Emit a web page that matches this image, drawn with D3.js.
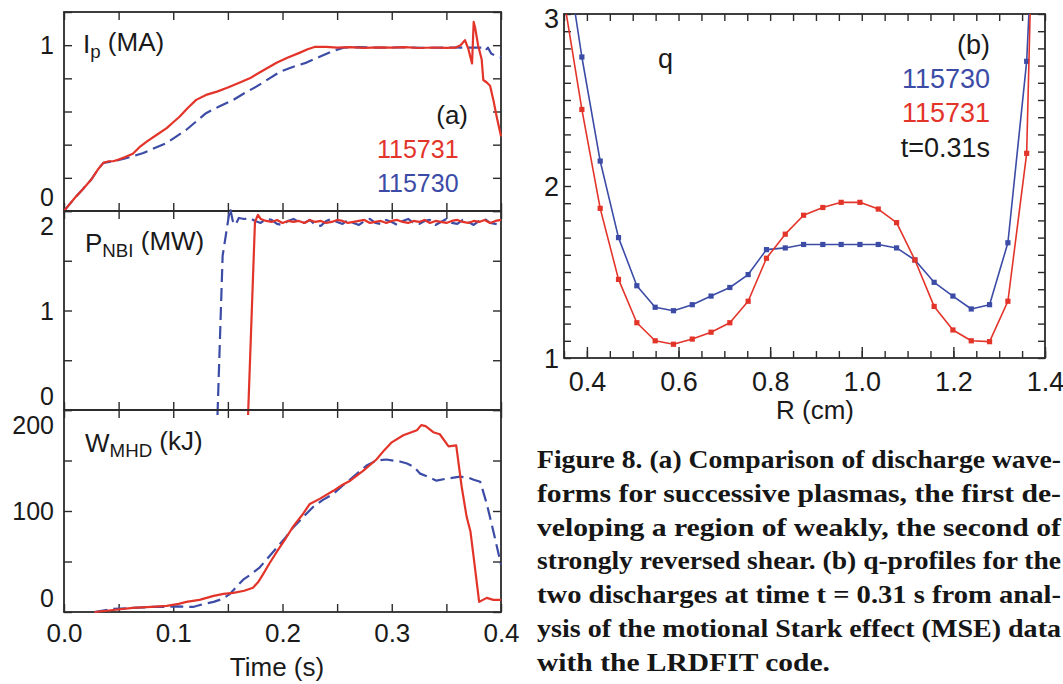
<!DOCTYPE html>
<html>
<head>
<meta charset="utf-8">
<script src="https://cdn.jsdelivr.net/npm/d3@7"></script>
<style>
  body { margin: 0; background: #fff; }
  svg text { font-family: "Liberation Sans", Arial, sans-serif; fill: #1a1a1a; }
  svg text.cap { font-family: "Liberation Serif", "Times New Roman", serif; font-weight: bold; fill: #161616; }
</style>
</head>
<body>
<svg id="fig" width="1063" height="684"></svg>
<script>
// ---- (a) discharge waveforms, shots 115731 (red) and 115730 (blue, dashed)
var ipRedT = [0, 0.005, 0.010, 0.017, 0.025, 0.031, 0.036, 0.041, 0.045, 0.050, 0.056, 0.063, 0.070, 0.076, 0.085,
  0.094, 0.100, 0.106, 0.113, 0.121, 0.130, 0.140, 0.150, 0.161, 0.170, 0.179, 0.187, 0.195, 0.205, 0.216,
  0.223, 0.230, 0.240, 0.250, 0.262, 0.275, 0.288, 0.300, 0.312, 0.325, 0.338, 0.350, 0.358, 0.363, 0.367,
  0.370, 0.3735, 0.375, 0.3765, 0.379, 0.3823, 0.3838, 0.387, 0.390, 0.393, 0.396, 0.400];
var ipRed = [0, 0.04, 0.08, 0.13, 0.19, 0.25, 0.29, 0.30, 0.30, 0.31, 0.325, 0.345, 0.39, 0.42, 0.46,
  0.50, 0.535, 0.57, 0.62, 0.67, 0.70, 0.72, 0.745, 0.775, 0.80, 0.835, 0.865, 0.895, 0.925, 0.955,
  0.975, 0.99, 0.99, 0.985, 0.988, 0.984, 0.987, 0.985, 0.988, 0.983, 0.986, 0.984, 0.985, 1.00, 1.03,
  0.98, 0.89, 1.14, 1.10, 1.00, 0.915, 0.79, 0.775, 0.755, 0.67, 0.57, 0.45];
var ipBlueT = [0, 0.005, 0.010, 0.017, 0.025, 0.031, 0.036, 0.045, 0.055, 0.063, 0.0726, 0.083, 0.094, 0.103, 0.112,
  0.121, 0.130, 0.142, 0.155, 0.165, 0.176, 0.187, 0.198, 0.210, 0.222, 0.234, 0.246, 0.256, 0.270, 0.290,
  0.310, 0.330, 0.350, 0.370, 0.380, 0.384, 0.386, 0.388, 0.391, 0.395, 0.400];
var ipBlue = [0, 0.04, 0.08, 0.13, 0.19, 0.25, 0.29, 0.30, 0.315, 0.33, 0.35, 0.38, 0.41, 0.45, 0.49,
  0.54, 0.59, 0.63, 0.67, 0.71, 0.75, 0.795, 0.84, 0.87, 0.895, 0.93, 0.965, 0.985, 0.988, 0.985,
  0.987, 0.984, 0.986, 0.985, 0.985, 0.986, 0.97, 0.985, 0.95, 0.935, 0.925];

var nbiRedT = [0.1685, 0.1748, 0.1775, 0.180, 0.185, 0.190, 0.195, 0.200, 0.205, 0.210, 0.215, 0.220, 0.225, 0.230,
  0.235, 0.240, 0.245, 0.250, 0.255, 0.260, 0.265, 0.270, 0.275, 0.280, 0.285, 0.290, 0.295, 0.300, 0.305,
  0.310, 0.315, 0.320, 0.325, 0.330, 0.335, 0.340, 0.345, 0.350, 0.355, 0.360, 0.365, 0.370, 0.375, 0.380,
  0.385, 0.390, 0.395, 0.400];
var nbiRed = [-0.05, 1.89, 1.96, 1.92, 1.90, 1.89, 1.91, 1.88, 1.90, 1.89, 1.90, 1.88, 1.91, 1.89,
  1.90, 1.88, 1.89, 1.91, 1.90, 1.88, 1.89, 1.90, 1.91, 1.88, 1.89, 1.90, 1.88, 1.90, 1.91,
  1.89, 1.88, 1.90, 1.89, 1.91, 1.88, 1.90, 1.89, 1.88, 1.90, 1.91, 1.89, 1.88, 1.90, 1.89,
  1.91, 1.88, 1.90, 1.91];
var nbiBlueT = [0.1405, 0.1452, 0.152, 0.1545, 0.157, 0.160, 0.165, 0.170, 0.175, 0.180, 0.185, 0.190, 0.195, 0.200,
  0.205, 0.210, 0.215, 0.220, 0.225, 0.230, 0.235, 0.240, 0.245, 0.250, 0.255, 0.260, 0.265, 0.270, 0.275,
  0.280, 0.285, 0.290, 0.295, 0.300, 0.305, 0.310, 0.315, 0.320, 0.325, 0.330, 0.335, 0.340, 0.345, 0.350,
  0.355, 0.360, 0.365, 0.370, 0.375, 0.380, 0.385, 0.390, 0.395, 0.400];
var nbiBlue = [-0.05, 1.55, 2.03, 1.90, 1.86, 1.93, 1.92, 1.93, 1.90, 1.88, 1.92, 1.91, 1.87, 1.86,
  1.90, 1.92, 1.89, 1.88, 1.91, 1.86, 1.85, 1.90, 1.92, 1.89, 1.87, 1.91, 1.88, 1.86, 1.90,
  1.92, 1.88, 1.87, 1.91, 1.89, 1.86, 1.90, 1.92, 1.88, 1.87, 1.90, 1.91, 1.86, 1.89, 1.92,
  1.88, 1.87, 1.91, 1.89, 1.86, 1.90, 1.92, 1.88, 1.87, 1.86];

var wRedT = [0.028, 0.045, 0.063, 0.080, 0.094, 0.105, 0.112, 0.124, 0.137, 0.146, 0.155, 0.165, 0.173, 0.178, 0.182,
  0.188, 0.195, 0.203, 0.210, 0.218, 0.225, 0.234, 0.2465, 0.255, 0.262, 0.274, 0.286, 0.293, 0.300, 0.3106,
  0.318, 0.323, 0.327, 0.331, 0.338, 0.344, 0.352, 0.359, 0.364, 0.3686, 0.372, 0.375, 0.380, 0.387, 0.393, 0.400];
var wRed = [0, 2, 4, 5, 6, 8, 10, 12, 16, 18, 19, 21, 24, 30, 37,
  48, 60, 73, 85, 96, 107, 112, 120, 126, 130, 140, 151, 160, 168, 175,
  178, 180, 185, 184, 178, 176, 164, 165, 124, 94, 80, 54, 10, 14, 12, 12];
var wBlueT = [0.028, 0.045, 0.063, 0.080, 0.094, 0.103, 0.118, 0.128, 0.137, 0.145, 0.152, 0.158, 0.164, 0.172, 0.179,
  0.187, 0.195, 0.203, 0.210, 0.219, 0.228, 0.237, 0.2465, 0.256, 0.265, 0.277, 0.286, 0.295, 0.3075, 0.314,
  0.320, 0.326, 0.335, 0.341, 0.350, 0.3625, 0.370, 0.375, 0.381, 0.387, 0.393, 0.400];
var wBlue = [0, 3, 4, 5, 5, 5.5, 5, 8, 10, 13, 18, 25, 32, 38, 44,
  54, 64, 74, 84, 94, 104, 111, 117, 126, 134, 145, 150, 151, 149, 147,
  144, 137, 133, 130, 132, 134, 133, 131, 129, 107, 80, 47];

var timeTicks = d3.range(0, 0.4001, 0.05);
var timeLabels = [0, 0.1, 0.2, 0.3, 0.4];
var ipTicks = [0, 0.2, 0.4, 0.6, 0.8, 1.0, 1.2], ipLabels = [0, 1];
var nbiTicks = [0, 0.5, 1, 1.5, 2], nbiLabels = [0, 1, 2];
var wTicks = [0, 50, 100, 150, 200], wLabels = [0, 100, 200];

// ---- (b) q profiles at t = 0.31 s
var radius = [0.349, 0.389, 0.429, 0.469, 0.509, 0.549, 0.589, 0.630, 0.671, 0.712, 0.752, 0.792, 0.833, 0.873,
  0.915, 0.955, 0.996, 1.036, 1.076, 1.116, 1.158, 1.199, 1.239, 1.279, 1.319, 1.360, 1.400];
var q115730 = [3.45, 2.75, 2.145, 1.70, 1.42, 1.295, 1.275, 1.31, 1.36, 1.41, 1.485, 1.63, 1.64, 1.66,
  1.66, 1.66, 1.66, 1.66, 1.64, 1.57, 1.44, 1.36, 1.285, 1.31, 1.67, 2.725, 5.0];
var q115731 = [3.10, 2.445, 1.87, 1.457, 1.205, 1.10, 1.08, 1.11, 1.15, 1.205, 1.33, 1.58, 1.72, 1.83,
  1.875, 1.905, 1.905, 1.866, 1.787, 1.57, 1.30, 1.163, 1.10, 1.095, 1.33, 2.19, 6.5];
var rTicks = d3.range(0.35, 1.4001, 0.05);
var rLabels = [0.4, 0.6, 0.8, 1.0, 1.2, 1.4];
var qTicks = d3.range(1, 3.001, 0.1);
var qLabels = [1, 2, 3];

var caption = [
  "Figure 8. (a) Comparison of discharge wave-",
  "forms for successive plasmas, the first de-",
  "veloping a region of weakly, the second of",
  "strongly reversed shear. (b) q-profiles for the",
  "two discharges at time t = 0.31 s from anal-",
  "ysis of the motional Stark effect (MSE) data",
  "with the LRDFIT code."
];

var red = "#e3342a", blue = "#3c4ca6", ink = "#2b2b2b";
var svg = d3.select("#fig");

// inward ticks on all four sides plus the frame
function frame(g, xs, ys, xTicks, yTicks, len) {
  var x0 = xs.range()[0], x1 = xs.range()[1], y0 = ys.range()[0], y1 = ys.range()[1];
  g.append("g").attr("transform", "translate(0," + y0 + ")")
    .call(d3.axisBottom(xs).tickValues(xTicks).tickSize(-len).tickFormat(""));
  g.append("g").attr("transform", "translate(0," + y1 + ")")
    .call(d3.axisTop(xs).tickValues(xTicks).tickSize(-len).tickFormat(""));
  g.append("g").attr("transform", "translate(" + x0 + ",0)")
    .call(d3.axisLeft(ys).tickValues(yTicks).tickSize(-len).tickFormat(""));
  g.append("g").attr("transform", "translate(" + x1 + ",0)")
    .call(d3.axisRight(ys).tickValues(yTicks).tickSize(-len).tickFormat(""));
  g.selectAll(".domain").remove();
  g.selectAll(".tick line").attr("stroke", ink).attr("stroke-width", 1.4);
  g.append("rect").attr("x", x0).attr("y", y1).attr("width", x1 - x0).attr("height", y0 - y1)
    .attr("fill", "none").attr("stroke", ink).attr("stroke-width", 1.8);
}

// y labels kept inside the panel's own band
function yLabels(g, ys, vals, xAt, size, pad, fmt) {
  var lo = Math.min.apply(null, ys.range()), hi = Math.max.apply(null, ys.range());
  g.selectAll("text.yl").data(vals).enter().append("text")
    .attr("class", "yl")
    .attr("x", xAt)
    .attr("y", function(d) { return Math.max(lo + pad, Math.min(hi - pad, ys(d))); })
    .attr("dy", "0.36em")
    .attr("text-anchor", "end")
    .style("font-size", size + "px")
    .text(fmt || String);
}

function curve(g, xs, ys, t, v, color, dash, width) {
  var line = d3.line().x(function(d) { return xs(d[0]); }).y(function(d) { return ys(d[1]); });
  g.append("path").datum(d3.zip(t, v))
    .attr("d", line)
    .attr("fill", "none")
    .attr("stroke", color)
    .attr("stroke-width", width)
    .attr("stroke-linejoin", "round")
    .attr("stroke-dasharray", dash);
}

function label(g, x, y, main, sub, rest, size) {
  var t = g.append("text").attr("x", x).attr("y", y).style("font-size", size + "px");
  t.append("tspan").text(main);
  t.append("tspan").attr("dy", "0.25em").style("font-size", (size * 0.72) + "px").text(sub);
  t.append("tspan").attr("dy", "-0.25em").text(rest);
}

// ---------- left column
var x = d3.scaleLinear().domain([0, 0.4]).range([64, 501]);
var yIp = d3.scaleLinear().domain([0, 1.2]).range([211, 12]);
var yNbi = d3.scaleLinear().domain([0, 2]).range([410, 211]);
var yW = d3.scaleLinear().domain([0, 200]).range([612, 410]);

var g1 = svg.append("g"), g2 = svg.append("g"), g3 = svg.append("g");
frame(g1, x, yIp, timeTicks, ipTicks, 8);
frame(g2, x, yNbi, timeTicks, nbiTicks, 8);
frame(g3, x, yW, timeTicks, wTicks, 8);

yLabels(g1, yIp, ipLabels, 54, 25, 14.5);
yLabels(g2, yNbi, nbiLabels, 54, 25, 14.5);
yLabels(g3, yW, wLabels, 54, 25, 14.5);

var xl = svg.append("g").attr("transform", "translate(0,612)")
  .call(d3.axisBottom(x).tickValues(timeLabels).tickSize(0).tickPadding(12).tickFormat(d3.format(".1f")));
xl.select(".domain").remove();
xl.attr("font-family", null).attr("font-size", null);
xl.selectAll("text").style("font-size", "26px");

svg.append("text").attr("x", 277).attr("y", 676).attr("text-anchor", "middle")
  .style("font-size", "26px").text("Time (s)");

curve(g1, x, yIp, ipBlueT, ipBlue, blue, "13,6", 2.2);
curve(g1, x, yIp, ipRedT, ipRed, red, null, 2.2);
curve(g2, x, yNbi, nbiBlueT, nbiBlue, blue, "13,6", 2.2);
curve(g2, x, yNbi, nbiRedT, nbiRed, red, null, 2.2);
curve(g3, x, yW, wBlueT, wBlue, blue, "13,6", 2.2);
curve(g3, x, yW, wRedT, wRed, red, null, 2.2);

label(g1, 83, 53, "I", "p", " (MA)", 26);
label(g2, 85, 252, "P", "NBI", " (MW)", 26);
label(g3, 85, 452, "W", "MHD", " (kJ)", 26);

g1.append("text").attr("x", 468).attr("y", 124).attr("text-anchor", "end").style("font-size", "26px").text("(a)");
g1.append("text").attr("x", 377).attr("y", 158).style("font-size", "25px").style("fill", red).text("115731");
g1.append("text").attr("x", 377).attr("y", 192).style("font-size", "25px").style("fill", blue).text("115730");

// ---------- right panel
var xr = d3.scaleLinear().domain([0.35, 1.4]).range([564, 1045]);
var yq = d3.scaleLinear().domain([1, 3]).range([358, 14]);
var gq = svg.append("g");

svg.append("clipPath").attr("id", "qclip").append("rect")
  .attr("x", 564).attr("y", 14).attr("width", 481).attr("height", 344);

frame(gq, xr, yq, rTicks, qTicks, 7);
// longer ticks at the labelled radii
gq.append("g").attr("transform", "translate(0,358)")
  .call(d3.axisBottom(xr).tickValues(rLabels).tickSize(-11).tickFormat(""))
  .call(function(s) { s.select(".domain").remove(); s.selectAll("line").attr("stroke", ink).attr("stroke-width", 1.4); });

yLabels(gq, yq, qLabels, 559, 27, 0, d3.format("d"));
gq.selectAll("text.yl").attr("y", function(d) { return yq(d) + (d === 3 ? 4 : 0); });

var xrl = gq.append("g").attr("transform", "translate(0,358)")
  .call(d3.axisBottom(xr).tickValues(rLabels).tickSize(0).tickPadding(14).tickFormat(d3.format(".1f")));
xrl.select(".domain").remove();
xrl.attr("font-family", null).attr("font-size", null);
xrl.selectAll("text").style("font-size", "27px");

gq.append("text").attr("x", 815).attr("y", 419).attr("text-anchor", "middle")
  .style("font-size", "26px").text("R (cm)");

var plot = gq.append("g").attr("clip-path", "url(#qclip)");
[[q115730, blue], [q115731, red]].forEach(function(s) {
  curve(plot, xr, yq, radius, s[0], s[1], null, 1.6);
  plot.selectAll(null).data(d3.zip(radius, s[0])).enter().append("rect")
    .attr("x", function(d) { return xr(d[0]) - 2.6; })
    .attr("y", function(d) { return yq(d[1]) - 2.6; })
    .attr("width", 5.2).attr("height", 5.2)
    .attr("fill", s[1]);
});

gq.append("text").attr("x", 658).attr("y", 68).style("font-size", "27px").text("q");
gq.append("text").attr("x", 990).attr("y", 54).attr("text-anchor", "end").style("font-size", "27px").text("(b)");
gq.append("text").attr("x", 990).attr("y", 88).attr("text-anchor", "end").style("font-size", "27px").style("fill", blue).text("115730");
gq.append("text").attr("x", 990).attr("y", 122).attr("text-anchor", "end").style("font-size", "27px").style("fill", red).text("115731");
gq.append("text").attr("x", 990).attr("y", 157).attr("text-anchor", "end").style("font-size", "27px").text("t=0.31s");

// ---------- caption, justified except for the last line
var capWidths = [524, 524, 524, 524, 524, 524, 293];
svg.append("g").selectAll("text").data(caption).enter().append("text")
  .attr("class", "cap")
  .attr("x", 537)
  .attr("y", function(d, i) { return 468 + i * 33.8; })
  .style("font-size", "26px")
  .attr("textLength", function(d, i) { return capWidths[i]; })
  .attr("lengthAdjust", "spacingAndGlyphs")
  .text(function(d) { return d; });
</script>
</body>
</html>
